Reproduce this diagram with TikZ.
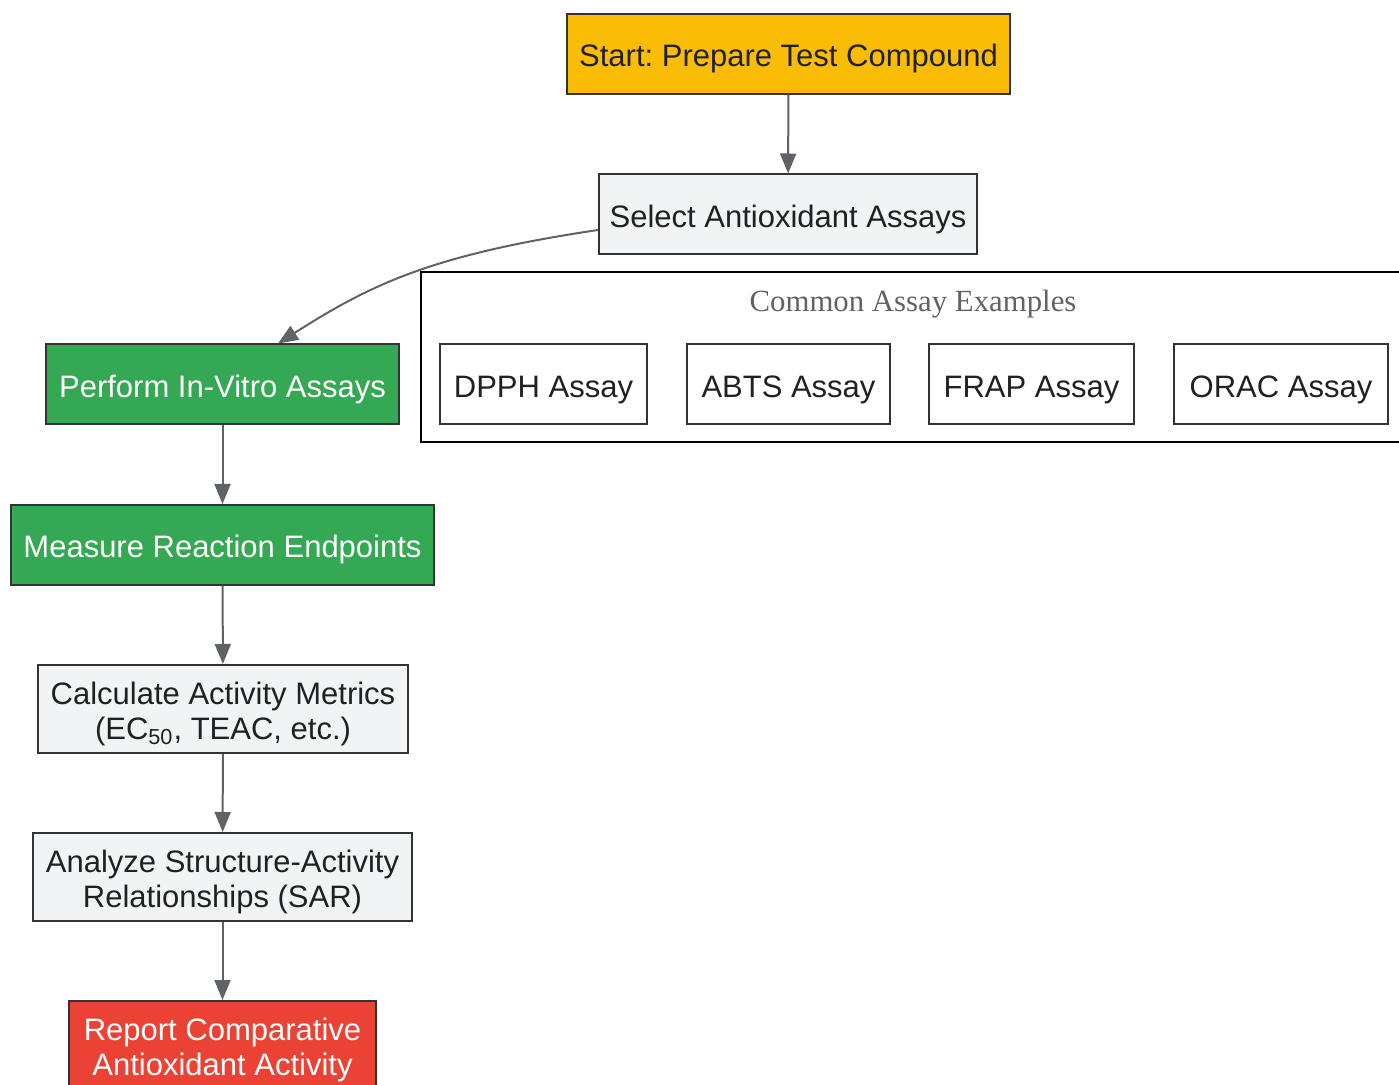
\documentclass[tikz,border=0pt]{standalone}
\usepackage{fontspec}
\setmainfont{Liberation Sans}
\newfontfamily\titlefont{Liberation Serif}
\usetikzlibrary{arrows.meta,positioning}
\frenchspacing

\definecolor{gold}{HTML}{FBBC05}
\definecolor{grn}{HTML}{34A853}
\definecolor{rd}{HTML}{EA4335}
\definecolor{lgray}{HTML}{F1F3F4}
\definecolor{ink}{HTML}{202124}
\definecolor{edge}{HTML}{5F6368}
\definecolor{rim}{HTML}{333333}

\begin{document}
\begin{tikzpicture}[
x=0.5pt,y=-0.5pt,
stepbox/.style={draw=rim,line width=1pt,fill=lgray,text=ink,align=center,
    font=\fontsize{15.5}{17.5}\selectfont,inner sep=0pt,minimum height=40pt,
    text height=13pt,text depth=0pt},
twoline/.style={minimum height=44pt,text height=30.5pt,text depth=0pt},
startbox/.style={stepbox,fill=gold},
runbox/.style={stepbox,fill=grn,text=white},
endbox/.style={stepbox,fill=rd,text=white},
assay/.style={stepbox,fill=white},
group/.style={draw=black,line width=1pt,fill=none},
flow/.style={->,draw=edge,line width=1pt},
>={Triangle[length=10pt,width=8pt]}]

\useasboundingbox (0,0) rectangle (1399,1085);

% cluster frame
\draw[group] (421,272) rectangle (1410,442);
\node[text=edge,font=\titlefont\fontsize{15.4}{17.5}\selectfont,text height=11pt,text depth=0pt] (grp) at (913,301) {Common Assay Examples};

% nodes
\node[startbox,minimum width=221.5pt] (start) at (788.5,54) {Start: Prepare Test Compound};
\node[stepbox,minimum width=189pt] (sel) at (788,214.5) {Select Antioxidant Assays};

\node[assay,minimum width=103.5pt] (dpph) at (543.5,384.5) {DPPH Assay};
\node[assay,minimum width=101.5pt] (abts) at (788.5,384.5) {ABTS Assay};
\node[assay,minimum width=102.5pt] (frap) at (1031.5,384.5) {FRAP Assay};
\node[assay,minimum width=107pt] (orac) at (1281,384.5) {ORAC Assay};

\node[runbox,minimum width=176.5pt] (perf) at (222.5,384.5) {Perform In-Vitro Assays};
\node[runbox,minimum width=211.5pt] (meas) at (222.5,545) {Measure Reaction Endpoints};
\node[stepbox,twoline,minimum width=185pt] (calc) at (223,709)
    {Calculate Activity Metrics\\(EC\textsubscript{50}, TEAC, etc.)};
\node[stepbox,twoline,minimum width=189.5pt] (sar) at (222.5,877)
    {Analyze Structure-Activity\\Relationships (SAR)};
\node[endbox,twoline,minimum width=153.5pt] (rep) at (222.5,1045)
    {Report Comparative\\Antioxidant Activity};

% connectors
\draw[flow] (start) -- (sel);
\draw[flow] ([yshift=-7.75pt]sel.west) .. controls (430,255) and (370,285) .. ([xshift=27.75pt]perf.north);
\draw[flow] (perf) -- (meas);
\draw[flow] (meas) -- (calc);
\draw[flow] (calc) -- (sar);
\draw[flow] (sar) -- (rep);
\end{tikzpicture}
\end{document}
